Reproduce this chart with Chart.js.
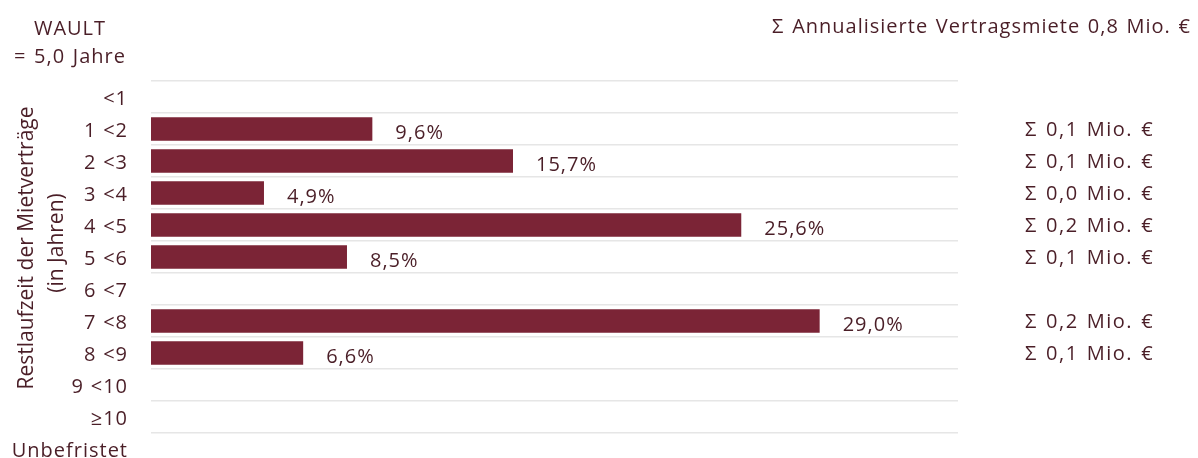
<!DOCTYPE html>
<html>
<head>
<meta charset="utf-8">
<script src="https://cdn.jsdelivr.net/npm/chart.js@4/dist/chart.umd.min.js"></script>
<style>
html,body{margin:0;padding:0;background:#fff;overflow:hidden;}
canvas{display:block;}
</style>
</head>
<body>
<canvas id="c" width="1198" height="500" style="width:1198px;height:500px"></canvas>
<script>
const categories = ['<1','1 <2','2 <3','3 <4','4 <5','5 <6','6 <7','7 <8','8 <9','9 <10','≥10','Unbefristet'];
const shares = [0, 9.6, 15.7, 4.9, 25.6, 8.5, 0, 29.0, 6.6, 0, 0, 0];
const rentMio = ['', '0,1', '0,1', '0,0', '0,2', '0,1', '', '0,2', '0,1', '', '', ''];
const xMax = 35;
const totalTitle = 'Σ Annualisierte Vertragsmiete 0,8 Mio. €';
const waultLines = ['WAULT', '= 5,0 Jahre'];
const axisTitleLines = ['Restlaufzeit der Mietverträge', '(in Jahren)'];

const TEXT = '#4a1e27';
const BAR = '#7b2436';
const FONT = '"Open Sans", "Noto Sans", sans-serif';
const FS = 20;

function fmt(v){ return v.toFixed(1).replace('.', ',') + '%'; }
function spacing(ctx, ls, ws){
  if ('letterSpacing' in ctx) ctx.letterSpacing = ls;
  if ('wordSpacing' in ctx) ctx.wordSpacing = ws;
}

const spacingPlugin = {
  id: 'spacing',
  beforeDraw(chart) { spacing(chart.ctx, '1px', '0.5px'); }
};

const overlay = {
  id: 'overlay',
  afterDatasetsDraw(chart) {
    const ctx = chart.ctx;
    const meta = chart.getDatasetMeta(0);
    ctx.save();
    ctx.fillStyle = TEXT;
    ctx.font = FS + 'px ' + FONT;
    ctx.textBaseline = 'middle';
    ctx.textAlign = 'left';
    meta.data.forEach((bar, i) => {
      spacing(ctx, '1px', '1px');
      if (shares[i] > 0) ctx.fillText(fmt(shares[i]), bar.x + 23, bar.y + 4.5);
      spacing(ctx, '1.5px', '1.5px');
      if (rentMio[i]) ctx.fillText('Σ ' + rentMio[i] + ' Mio. €', 1025, bar.y + 1.5);
    });
    spacing(ctx, '1px', '1.5px');
    ctx.textAlign = 'right';
    ctx.fillText(totalTitle, 1191, 27);
    ctx.textAlign = 'center';
    ctx.fillText(waultLines[0], 70, 29);
    ctx.fillText(waultLines[1], 70, 57);
    spacing(ctx, '0px', '0px');
    ctx.font = '21px "Liberation Sans Narrow", "Arial Narrow", ' + FONT;
    ctx.save();
    ctx.translate(27, 248);
    ctx.rotate(-Math.PI / 2);
    ctx.fillText(axisTitleLines[0], 0, 0);
    ctx.restore();
    ctx.save();
    ctx.translate(57, 243);
    ctx.rotate(-Math.PI / 2);
    ctx.fillText(axisTitleLines[1], 0, 0);
    ctx.restore();
    ctx.restore();
  }
};

new Chart(document.getElementById('c'), {
  type: 'bar',
  data: {
    labels: categories,
    datasets: [{
      data: shares,
      backgroundColor: BAR,
      borderWidth: 0,
      barPercentage: 0.73,
      categoryPercentage: 1.0
    }]
  },
  options: {
    indexAxis: 'y',
    responsive: false,
    maintainAspectRatio: false,
    animation: false,
    events: [],
    layout: { padding: { top: 81, right: 240, bottom: 2, left: 0 } },
    plugins: { legend: { display: false }, tooltip: { enabled: false } },
    scales: {
      x: {
        display: false,
        min: 0, max: xMax
      },
      y: {
        afterFit(scale) { scale.width = 151; },
        border: { display: false },
        grid: {
          offset: true,
          color: '#e6e6e6',
          lineWidth: 1.5,
          drawTicks: false
        },
        ticks: {
          color: TEXT,
          font: { size: FS, family: FONT, lineHeight: 1.2 },
          padding: 23,
          labelOffset: 2.5
        }
      }
    }
  },
  plugins: [spacingPlugin, overlay]
});
</script>
</body>
</html>
